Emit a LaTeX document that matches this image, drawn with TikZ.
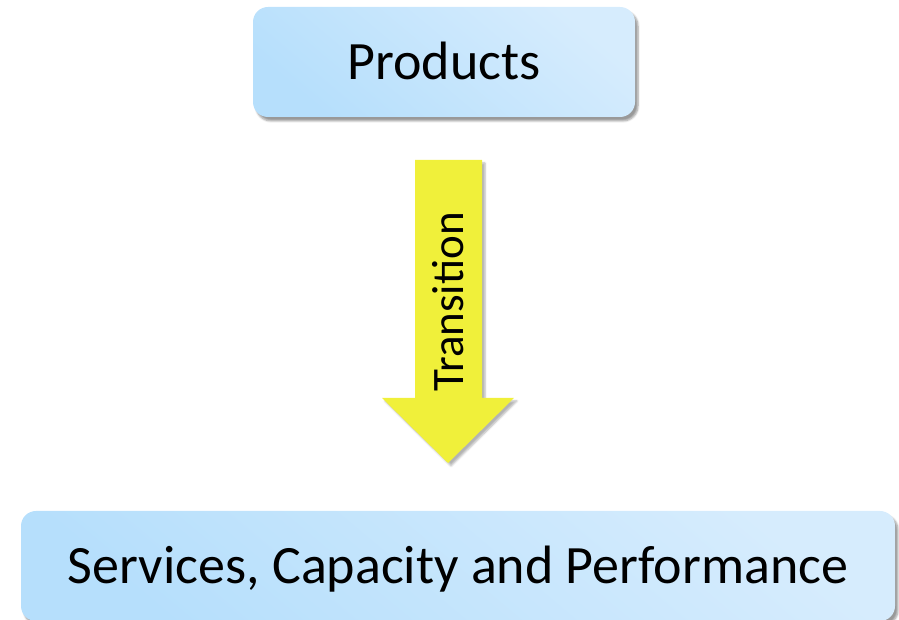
\documentclass[tikz,border=0pt]{standalone}
\usepackage{fontspec}
\setmainfont{Carlito}
\usetikzlibrary{shadows.blur}

\definecolor{boxblueA}{RGB}{182,223,252}
\definecolor{boxblueB}{RGB}{214,236,253}
\definecolor{arrowyellow}{RGB}{240,240,58}

\begin{document}
\begin{tikzpicture}[x=1pt, y=1pt,
    box/.style={rounded corners=15pt, inner sep=0pt,
        left color=boxblueA, right color=boxblueB, shading angle=140,
        blur shadow={shadow xshift=3pt, shadow yshift=-4pt, shadow blur steps=6, shadow opacity=40},
        minimum height=110pt, text height=35pt, text depth=0pt,
        font=\fontsize{54}{60}\selectfont}]
    \useasboundingbox (0,0) rectangle (899,620);

    % the two boxes
    \node[box, minimum width=382pt] (prod) at (444,558) {Products};
    \node[box, minimum width=874pt] (serv) at (458,54) {Services, Capacity and Performance};

    % block arrow between them
    \fill[arrowyellow, blur shadow={shadow xshift=3pt, shadow yshift=-3pt, shadow blur steps=5, shadow opacity=30}]
        (415,460) -- (482,460) -- (482,222) -- (514,222) -- (448,157) -- (382,222) -- (415,222) -- cycle;
    \node[rotate=90, inner sep=0pt, text height=31pt, text depth=0pt,
        font=\fontsize{45}{50}\selectfont] (trans) at (448,318) {Transition};
\end{tikzpicture}
\end{document}
